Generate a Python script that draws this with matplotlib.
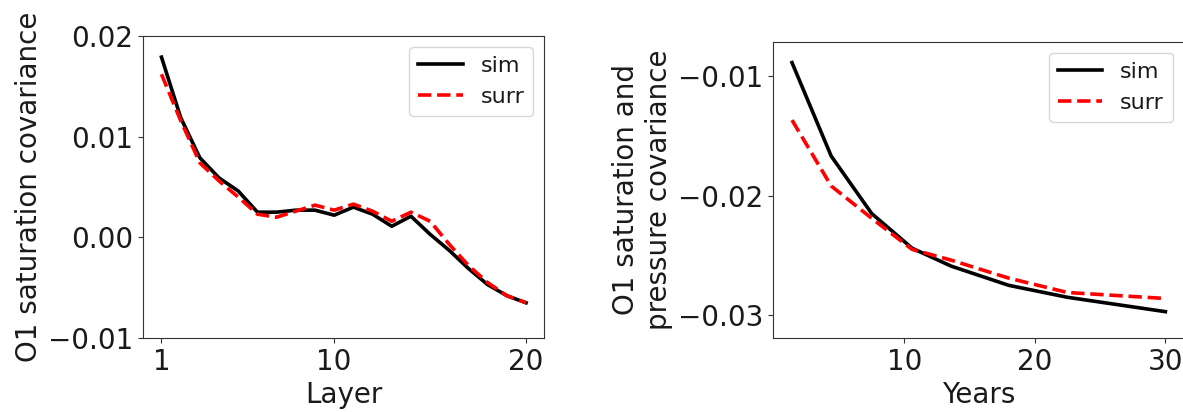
import matplotlib
matplotlib.use("Agg")
import matplotlib.pyplot as plt

# Left panel: covariance per layer
layers = list(range(1, 21))
layer_sim = [0.0179, 0.0119, 0.0079, 0.0059, 0.0046, 0.0025, 0.0025, 0.0027,
             0.0027, 0.0022, 0.0030, 0.0023, 0.0011, 0.0021, 0.0003, -0.0013,
             -0.0031, -0.0047, -0.0058, -0.0065]
layer_surr = [0.0162, 0.0116, 0.0074, 0.0056, 0.0040, 0.0023, 0.0020, 0.0026,
              0.0032, 0.0027, 0.0033, 0.0026, 0.0016, 0.0025, 0.0016, -0.0007,
              -0.0028, -0.0045, -0.0058, -0.0065]

# Right panel: covariance over time
years = [1.4, 4.4, 7.5, 10.6, 13.6, 18.0, 22.5, 30.0]
year_sim = [-0.0089, -0.0167, -0.0215, -0.0244, -0.0259, -0.0275, -0.0285, -0.0297]
year_surr = [-0.0137, -0.0192, -0.0219, -0.0245, -0.0254, -0.0269, -0.0281, -0.0286]

FS = 20
LFS = 16
TXT = "#1a1a1a"

plt.rcParams["text.color"] = TXT
plt.rcParams["axes.labelcolor"] = TXT
plt.rcParams["xtick.labelcolor"] = TXT
plt.rcParams["ytick.labelcolor"] = TXT
plt.rcParams["axes.edgecolor"] = "#333333"
plt.rcParams["xtick.color"] = "#333333"
plt.rcParams["ytick.color"] = "#333333"

fig = plt.figure(figsize=(11.83, 4.12), dpi=100)
ax1 = fig.add_axes([0.1211, 0.1796, 0.339, 0.733])
ax2 = fig.add_axes([0.6537, 0.1796, 0.3472, 0.719])

ax1.plot(layers, layer_sim, color="black", lw=2.6, label="sim")
ax1.plot(layers, layer_surr, color="red", lw=2.6, ls="--", label="surr")
ax1.set_ylim(-0.01, 0.02)
ax1.set_yticks([-0.01, 0.0, 0.01, 0.02])
ax1.set_xticks([1, 10, 20])
ax1.set_xlabel("Layer", fontsize=FS)
ax1.set_ylabel("O1 saturation covariance", fontsize=FS)
ax1.tick_params(labelsize=FS)
ax1.legend(loc="upper right", fontsize=LFS)

ax2.plot(years, year_sim, color="black", lw=2.6, label="sim")
ax2.plot(years, year_surr, color="red", lw=2.6, ls="--", label="surr")
ax2.set_ylim(-0.0319, -0.00716)
ax2.set_yticks([-0.03, -0.02, -0.01])
ax2.set_xticks([10, 20, 30])
ax2.set_xlabel("Years", fontsize=FS)
ax2.set_ylabel("O1 saturation and\npressure covariance", fontsize=FS)
ax2.tick_params(labelsize=FS)
ax2.legend(loc="upper right", fontsize=LFS)

fig.savefig("out.png", dpi=100)
